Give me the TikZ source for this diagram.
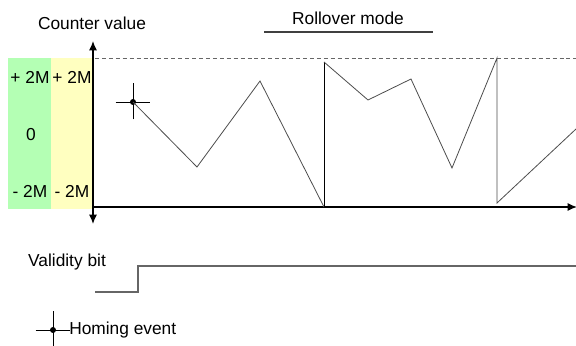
\documentclass[tikz,border=0pt]{standalone}
\usepackage{fontspec}
\setmainfont{Liberation Sans}
\usepackage{xcolor}
\usepackage{tikz}
\usetikzlibrary{arrows.meta, positioning}
\definecolor{bandgreen}{HTML}{B4FFB4}
\definecolor{bandyellow}{HTML}{FFFFC0}
\tikzstyle{lbl} = [inner sep=0pt, font=\fontsize{13pt}{15pt}\selectfont]
\tikzstyle{axis} = [draw=black, line width=0.9pt]
\tikzstyle{trace} = [draw=black!70, line width=0.6pt]
\tikzstyle{signal} = [draw=black!60, line width=1pt]
\tikzstyle{dot} = [circle, fill=black, inner sep=0pt, minimum size=4.5pt]

\begin{document}
\begin{tikzpicture}[x=0.75pt, y=-0.75pt, >={Latex[length=7pt, width=6pt]}]
    \useasboundingbox (0,0) rectangle (576,346);
    % Bands
    \fill[bandgreen] (8,58) rectangle (51,209);
    \fill[bandyellow] (51,58) rectangle (93,209);
    \node [lbl] (gtop) at (30,77) {+ 2M};
    \node [lbl] (ytop) at (72,77) {+ 2M};
    \node [lbl] (gzero) at (31,135) {0};
    \node [lbl] (gbot) at (30,191) {- 2M};
    \node [lbl] (ybot) at (72,191) {- 2M};

    % Titles
    \node [lbl] (title) at (92,23) {Counter value};
    \node [lbl] (roll) at (348,18) {Rollover mode};
    \coordinate (rollL) at (264,32);
    \coordinate (rollR) at (433,32);
    \draw [black!75, line width=0.8pt] (rollL) -- (rollR);

    % Axes
    \coordinate (aup) at (93,41);
    \coordinate (adown) at (93,224);
    \coordinate (orig) at (93,207);
    \coordinate (aright) at (577,207);
    \coordinate (maxL) at (95,58);
    \coordinate (maxR) at (576,58);
    \draw [black!60, dash pattern=on 3pt off 2.2pt, line width=0.6pt] (maxL) -- (maxR);
    \draw [axis, <->] (aup) -- (adown);
    \draw [axis, ->] (orig) -- (aright);

    % Counter trace
    \node [dot] (home) at (133,102) {};
    \draw [black, line width=0.7pt] ([yshift=-13]home.center) -- ([yshift=14]home.center)
        ([xshift=-13]home.center) -- ([xshift=13]home.center);
    \coordinate (p1) at (197,167);
    \coordinate (p2) at (260,81);
    \coordinate (p3) at (324,207);
    \coordinate (p4) at (324,62);
    \coordinate (p5) at (368,100);
    \coordinate (p6) at (411,79);
    \coordinate (p7) at (452,168);
    \coordinate (p8) at (497,58);
    \coordinate (p9) at (497,203);
    \coordinate (p10) at (576,129);
    \draw [trace] (home.center) -- (p1) -- (p2) -- (p3);
    \draw [black, line width=0.7pt] (p3) -- (p4);
    \draw [trace] (p4) -- (p5) -- (p6) -- (p7) -- (p8) -- (p9) -- (p10);

    % Validity bit
    \node [lbl] (valid) at (67,262) {Validity bit};
    \coordinate (v0) at (95,292);
    \coordinate (v1) at (138,292);
    \coordinate (v2) at (138,266);
    \coordinate (v3) at (576,266);
    \draw [signal] (v0) -- (v1) -- (v2) -- (v3);

    % Legend
    \node [dot] (legend) at (53,330) {};
    \draw [black, line width=0.7pt] ([yshift=-12]legend.center) -- ([yshift=14]legend.center)
        ([xshift=-13]legend.center) -- ([xshift=13]legend.center);
    \node [lbl, anchor=west] (legtext) at (69,330) {Homing event};
\end{tikzpicture}
\end{document}
